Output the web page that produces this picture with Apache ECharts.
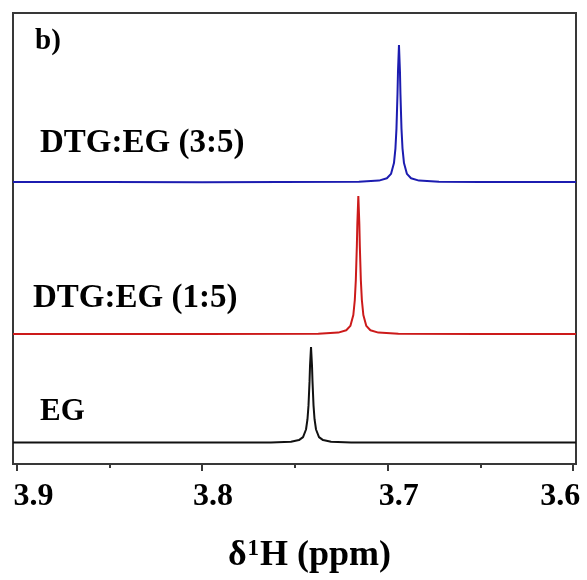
<!DOCTYPE html>
<html>
<head>
<meta charset="utf-8">
<script src="https://cdn.jsdelivr.net/npm/echarts@6/dist/echarts.min.js"></script>
<style>html,body{margin:0;padding:0;background:#fff}#c{width:587px;height:580px}</style>
</head>
<body>
<div id="c"></div>
<script>
// chemical shift range (ppm); axis is drawn reversed (high ppm on the left)
const xRange = [3.5985, 3.9019];
const majorTicks = [3.9, 3.8, 3.7, 3.6];
const minorTicks = [3.9, 3.85, 3.8, 3.75, 3.7, 3.65, 3.6];
const traceNames = ['EG', 'DTG:EG (1:5)', 'DTG:EG (3:5)'];
const traceColors = ['#111111', '#cc1a1a', '#1c1cb0'];

// EG (black) — intensity incl. vertical offset
const egData = [
  [3.9019, 21.4], [3.85, 21.5], [3.80, 21.5], [3.7629, 21.6], [3.7521, 22.25], [3.7478, 23.9],
  [3.7456, 26.9], [3.7440, 34.5], [3.7432, 44.8], [3.74265, 58.6], [3.7421, 82.6],
  [3.74184, 97.9], [3.7413, 117], [3.74076, 97.9], [3.7405, 82.6], [3.73995, 58.6],
  [3.7394, 44.8], [3.7386, 34.5], [3.7370, 26.9], [3.7348, 23.9], [3.7305, 22.25],
  [3.7197, 21.6], [3.65, 21.5], [3.5985, 21.5]
];
// DTG:EG (1:5) (red)
const dtg15Data = [
  [3.9019, 130], [3.85, 130], [3.80, 130], [3.7374, 130.3], [3.7266, 131.4], [3.7223, 133.7],
  [3.7201, 138.1], [3.7185, 149], [3.7177, 164], [3.71715, 184], [3.7166, 218],
  [3.71634, 240], [3.7158, 268], [3.71526, 240], [3.7150, 218], [3.71445, 184],
  [3.7139, 164], [3.7131, 149], [3.7115, 138.1], [3.7093, 133.7], [3.7050, 131.4],
  [3.6942, 130.3], [3.65, 130], [3.5985, 130]
];
// DTG:EG (3:5) (blue)
const dtg35Data = [
  [3.9019, 282], [3.85, 282], [3.80, 281.8], [3.7155, 282.3], [3.7047, 283.4], [3.7004, 285.7],
  [3.6982, 290.1], [3.6966, 300.9], [3.6958, 315.7], [3.69525, 335.4], [3.6947, 369.7],
  [3.69444, 391.6], [3.6939, 419], [3.69336, 391.6], [3.6931, 369.7], [3.69255, 335.4],
  [3.6920, 315.7], [3.6912, 300.9], [3.6896, 290.1], [3.6874, 285.7], [3.6831, 283.4],
  [3.6723, 282.3], [3.65, 282], [3.5985, 282]
];
const panelLabel = 'b)';
const axisTitleParts = ['δ', '1', 'H (ppm)'];

const chart = echarts.init(document.getElementById('c'), null, {renderer: 'canvas'});
const font = 'Liberation Serif';
const frameColor = '#383838';

const baseX = {
  type: 'value', inverse: true, min: xRange[0], max: xRange[1], position: 'bottom',
  splitLine: {show: false}
};
const lblBase = {color: '#000', fontFamily: font, fontWeight: 'bold', fontSize: 32};

chart.setOption({
  animation: false,
  backgroundColor: '#fff',
  grid: {left: 13, right: 11, top: 13, bottom: 116, show: true, borderColor: frameColor, borderWidth: 2,
    containLabel: false, outerBoundsMode: 'none'},
  xAxis: [
    Object.assign({}, baseX, {
      axisLine: {show: true, lineStyle: {color: frameColor, width: 2}},
      axisTick: {show: true, customValues: majorTicks, length: 7, lineStyle: {color: frameColor, width: 2}},
      axisLabel: {show: true, customValues: majorTicks, margin: 17, hideOverlap: false,
        color: '#000', fontFamily: font, fontWeight: 'bold', fontSize: 32,
        formatter: v => {
          const t = v.toFixed(1);
          if (Math.abs(v - 3.9) < 1e-6) return '{l|' + t + '}';
          if (Math.abs(v - 3.6) < 1e-6) return '{r|' + t + '}';
          return '{m|' + t + '}';
        },
        rich: {
          l: Object.assign({padding: [0, 0, 0, 34]}, lblBase),
          m: Object.assign({padding: [0, 0, 0, 22]}, lblBase),
          r: Object.assign({padding: [0, 26, 0, 0]}, lblBase)
        }},
      name: '{a|' + axisTitleParts[0] + '}{s|' + axisTitleParts[1] + '}{a|' + axisTitleParts[2] + '}',
      nameLocation: 'middle', nameGap: 72,
      nameTextStyle: {color: '#000', fontFamily: font, fontWeight: 'bold', fontSize: 36, lineHeight: 40,
        padding: [0, 0, 0, 30],
        rich: {
          a: {color: '#000', fontFamily: font, fontWeight: 'bold', fontSize: 36, lineHeight: 40},
          s: {color: '#000', fontFamily: font, fontWeight: 'bold', fontSize: 23, lineHeight: 40, verticalAlign: 'top', padding: [2, 1, 0, 1]}
        }}
    }),
    Object.assign({}, baseX, {
      axisLine: {show: false},
      axisTick: {show: true, customValues: minorTicks, length: 4, lineStyle: {color: frameColor, width: 2}},
      axisLabel: {show: false}
    })
  ],
  yAxis: {type: 'value', min: 0, max: 451, show: false},
  series: [egData, dtg15Data, dtg35Data].map((d, i) => ({
    type: 'line', name: traceNames[i], data: d, xAxisIndex: 0, symbol: 'none', smooth: false,
    lineStyle: {color: traceColors[i], width: 2}, z: 3
  })),
  graphic: [
    {type: 'text', left: 35, top: 27, style: {text: panelLabel, font: 'bold 29px "Liberation Serif"', fill: '#000'}},
    {type: 'text', left: 40, top: 127, style: {text: traceNames[2], font: 'bold 33px "Liberation Serif"', fill: '#000'}},
    {type: 'text', left: 33, top: 282, style: {text: traceNames[1], font: 'bold 33px "Liberation Serif"', fill: '#000'}},
    {type: 'text', left: 40, top: 396, style: {text: traceNames[0], font: 'bold 31px "Liberation Serif"', fill: '#000'}}
  ]
});
</script>
</body>
</html>
